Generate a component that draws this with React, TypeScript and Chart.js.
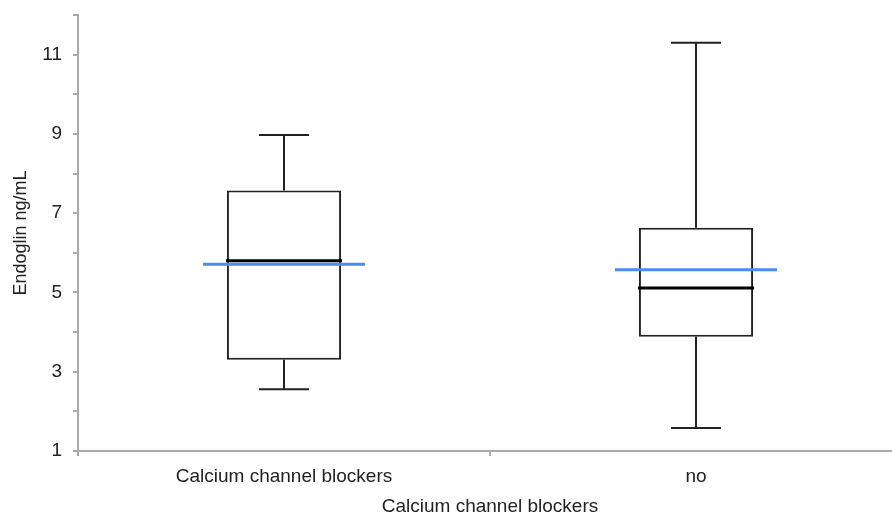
import React, { useEffect, useRef } from "react";
import { Chart, registerables } from "chart.js";

Chart.register(...registerables);

const categories = ["Calcium channel blockers", "no"];
const whiskerMin = [2.56, 1.58];
const q1 = [3.3, 3.88];
const median = [5.8, 5.11];
const q3 = [7.57, 6.63];
const whiskerMax = [8.97, 11.3];
const mean = [5.71, 5.57];

const yMin = 1;
const yMax = 12;
const yLabelValues = [1, 3, 5, 7, 9, 11];

const FONT = "'Liberation Sans', Arial, Helvetica, sans-serif";

const boxPlugin = {
  id: "boxExtras",
  afterDatasetsDraw(chart: any) {
    const meta = chart.getDatasetMeta(0);
    const yScale = chart.scales.y;
    const ctx = chart.ctx;
    ctx.save();
    meta.data.forEach((bar: any, i: number) => {
      const x = bar.x;
      const half = bar.width / 2;
      const yq1 = yScale.getPixelForValue(q1[i]);
      const yq3 = yScale.getPixelForValue(q3[i]);
      const yMinP = yScale.getPixelForValue(whiskerMin[i]);
      const yMaxP = yScale.getPixelForValue(whiskerMax[i]);
      const yMed = yScale.getPixelForValue(median[i]);
      const yMean = yScale.getPixelForValue(mean[i]);
      ctx.strokeStyle = "#222";
      ctx.lineWidth = 2;
      ctx.beginPath();
      ctx.moveTo(x, yq3);
      ctx.lineTo(x, yMaxP);
      ctx.moveTo(x, yq1);
      ctx.lineTo(x, yMinP);
      ctx.moveTo(x - 25, yMaxP);
      ctx.lineTo(x + 25, yMaxP);
      ctx.moveTo(x - 25, yMinP);
      ctx.lineTo(x + 25, yMinP);
      ctx.stroke();
      ctx.strokeStyle = "#000";
      ctx.lineWidth = 3;
      ctx.beginPath();
      ctx.moveTo(x - half - 1, yMed);
      ctx.lineTo(x + half + 1, yMed);
      ctx.stroke();
      ctx.strokeStyle = "#4a8cf0";
      ctx.lineWidth = 3;
      ctx.beginPath();
      ctx.moveTo(x - half - 24, yMean);
      ctx.lineTo(x + half + 24, yMean);
      ctx.stroke();
    });
    ctx.restore();
  },
};

export default function App() {
  const ref = useRef<HTMLCanvasElement | null>(null);

  useEffect(() => {
    document.body.style.margin = "0";
    if (!ref.current) return;
    const chart = new Chart(ref.current, {
      type: "bar",
      data: {
        labels: categories,
        datasets: [
          {
            data: categories.map((_, i) => [q1[i], q3[i]]),
            backgroundColor: "#ffffff",
            borderColor: "#222",
            borderWidth: 2,
            borderSkipped: false,
            barPercentage: 0.277,
            categoryPercentage: 1,
          },
        ],
      },
      options: {
        animation: false,
        responsive: false,
        maintainAspectRatio: false,
        layout: { padding: { top: 15, left: 0, right: 0, bottom: 0 } },
        plugins: {
          legend: { display: false },
          tooltip: { enabled: false },
        },
        scales: {
          x: {
            type: "category",
            grid: {
              display: true,
              drawOnChartArea: false,
              drawTicks: true,
              tickLength: 5,
              offset: true,
              color: "#aaa",
              lineWidth: 2,
            },
            border: { display: true, color: "#aaa", width: 2 },
            ticks: {
              padding: 9,
              color: "#222",
              font: { family: FONT, size: 19 },
              maxRotation: 0,
            },
            title: {
              display: true,
              text: "Calcium channel blockers",
              color: "#222",
              font: { family: FONT, size: 19, lineHeight: 1.0 },
              padding: { top: 0, bottom: 0 },
            },
            afterFit: (scale: any) => {
              scale.height = 65;
              scale.paddingLeft = 0;
              scale.paddingRight = 0;
            },
          },
          y: {
            type: "linear",
            min: yMin,
            max: yMax,
            grid: {
              display: true,
              drawOnChartArea: false,
              drawTicks: true,
              tickLength: 5,
              color: "#aaa",
              lineWidth: 2,
            },
            border: { display: true, color: "#aaa", width: 2 },
            ticks: {
              stepSize: 1,
              padding: 11,
              color: "#222",
              font: { family: FONT, size: 19 },
              callback: (v: any) => (yLabelValues.includes(Number(v)) ? String(v) : ""),
            },
            title: {
              display: true,
              text: "Endoglin ng/mL",
              color: "#222",
              font: { family: FONT, size: 18 },
              padding: { top: 10, bottom: 0 },
            },
            afterFit: (scale: any) => {
              scale.width = 78;
              scale.paddingTop = 0;
              scale.paddingBottom = 0;
            },
          },
        },
      },
      plugins: [boxPlugin],
    });
    return () => chart.destroy();
  }, []);

  return (
    <div style={{ width: 892, height: 516, overflow: "hidden", position: "relative" }}>
      <canvas ref={ref} width={902} height={516} style={{ display: "block", width: 902, height: 516 }} />
    </div>
  );
}
